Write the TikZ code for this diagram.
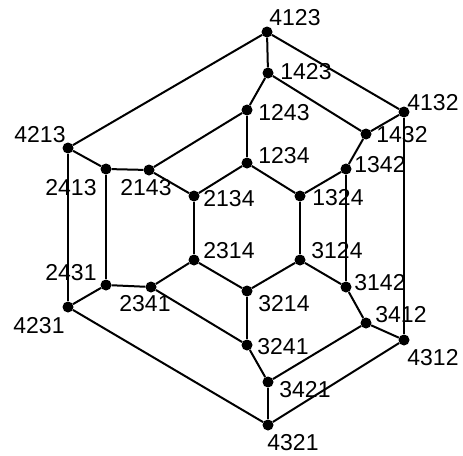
\documentclass[tikz,border=0pt]{standalone}
\usepackage{fontspec}
\setmainfont{Liberation Sans}
\begin{document}
\begin{tikzpicture}[x=1pt,y=-1pt,
  dot/.style={circle,fill=black,inner sep=0pt,minimum size=11pt},
  lab/.style={inner sep=0pt,font=\fontsize{23}{25}\selectfont},
  edge/.style={line width=2pt}]
\useasboundingbox (0,0) rectangle (463,455);
% vertices
\foreach \n/\x/\y in {4123/267/32,1423/268/73,1243/247/110,4132/404/112,1432/366/134,
  1342/346/169,1234/247/163,1324/300/196,2134/194/196,4213/68/148,2413/106/169,
  2143/149/170,2431/106/285,2341/151/287,4231/68/307,2314/194/260,3124/300/260,
  3142/346/287,3412/366/323,4312/404/340,3214/247/291,3241/247/345,3421/268/382,4321/268/425}
  \node[dot] (v\n) at (\x,\y) {};
% edges
\foreach \a/\b in {4123/4132,4132/4312,4312/4321,4321/4231,4231/4213,4213/4123,
  4123/1423,4132/1432,4312/3412,4321/3421,4231/2431,4213/2413,
  1423/1243,1423/1432,1432/1342,1243/1234,1243/2143,2413/2143,2143/2134,2134/1234,
  2134/2314,1234/1324,1324/1342,1324/3124,1342/3142,2413/2431,2431/2341,2341/2314,
  2341/3241,2314/3214,3214/3124,3214/3241,3124/3142,3142/3412,3412/3421,3241/3421}
  \draw[edge] (v\a) -- (v\b);
% labels
\foreach \n/\x/\y in {4123/295/18,1423/306/72,1243/284/113,4132/433/103,1432/402/135,
  1234/284/156,1342/380/165,1324/338/198,2134/229/199,4213/40/135,2413/71/188,
  2143/146/188,2431/71/273,2341/145/304,4231/39/326,2314/229/251,3124/337/251,
  3142/380/283,3214/284/304,3412/401/315,4312/433/358,3241/283/347,3421/305/390,4321/293/443}
  \node[lab] (l\n) at (\x,\y) {\n};
\end{tikzpicture}
\end{document}
